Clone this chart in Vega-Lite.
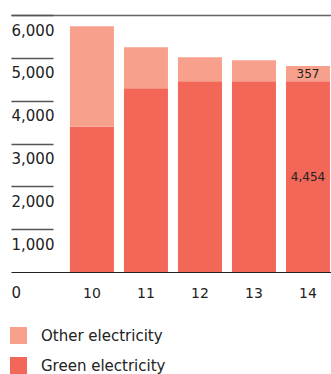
{
  "$schema": "https://vega.github.io/schema/vega-lite/v6.json",
  "width": 320,
  "height": 257,
  "autosize": {"type": "none"},
  "padding": {"left": 11, "top": 15, "right": 0, "bottom": 102},
  "background": "white",
  "config": {
    "view": {"stroke": null},
    "font": "DejaVu Sans",
    "text": {"font": "DejaVu Sans"}
  },
  "data": {
    "values": [
      {"year": "10", "type": "Green electricity", "value": 3390},
      {"year": "10", "type": "Other electricity", "value": 2345},
      {"year": "11", "type": "Green electricity", "value": 4290},
      {"year": "11", "type": "Other electricity", "value": 960},
      {"year": "12", "type": "Green electricity", "value": 4454},
      {"year": "12", "type": "Other electricity", "value": 560},
      {"year": "13", "type": "Green electricity", "value": 4454},
      {"year": "13", "type": "Other electricity", "value": 490},
      {"year": "14", "type": "Green electricity", "value": 4454},
      {"year": "14", "type": "Other electricity", "value": 357}
    ]
  },
  "transform": [
    {"stack": "value", "groupby": ["year"], "sort": [{"field": "type", "order": "ascending"}], "as": ["v0", "v1"]}
  ],
  "encoding": {
    "x": {
      "field": "year",
      "type": "ordinal",
      "scale": {"paddingInner": 0.185, "paddingOuter": 0.555, "align": 0.983},
      "axis": {
        "title": null,
        "orient": "bottom",
        "domain": true,
        "domainColor": "#222222",
        "domainWidth": 1,
        "ticks": false,
        "labelAngle": 0,
        "labelFont": "DejaVu Sans",
        "labelFontSize": 14,
        "labelColor": "#222222",
        "labelPadding": 14,
        "labelBaseline": "top"
      }
    }
  },
  "layer": [
    {
      "mark": {"type": "bar"},
      "encoding": {
        "y": {
          "field": "v0",
          "type": "quantitative",
          "scale": {"domain": [0, 6000], "nice": false},
          "axis": {
            "title": null,
            "orient": "left",
            "values": [0, 1000, 2000, 3000, 4000, 5000, 6000],
            "format": ",.0f",
            "offset": -42,
            "domain": false,
            "ticks": true,
            "tickSize": 42,
            "tickColor": "#555555",
            "tickWidth": 1.3,
            "tickOpacity": {"condition": {"test": "datum.value == 0", "value": 0}, "value": 1},
            "grid": true,
            "gridColor": "#666666",
            "gridWidth": 1.3,
            "gridOpacity": {"condition": {"test": "datum.value == 6000", "value": 1}, "value": 0},
            "labelAlign": "left",
            "labelBaseline": "top",
            "labelPadding": 0,
            "labelOffset": {"condition": {"test": "datum.value == 0", "value": 13}, "value": 8},
            "labelFont": "DejaVu Sans",
            "labelFontSize": 15,
            "labelColor": "#222222",
            "labelOverlap": false,
            "labelFlush": false,
            "labelBound": false
          }
        },
        "y2": {"field": "v1"},
        "color": {
          "field": "type",
          "type": "nominal",
          "scale": {
            "domain": ["Other electricity", "Green electricity"],
            "range": ["#F7A18C", "#F26757"]
          },
          "legend": {
            "title": null,
            "orient": "none",
            "direction": "vertical",
            "legendX": -1,
            "legendY": 312,
            "symbolType": "square",
            "symbolSize": 289,
            "symbolStrokeWidth": 0,
            "symbolOpacity": 1,
            "rowPadding": 13,
            "labelOffset": 14,
            "labelFont": "DejaVu Sans",
            "labelFontSize": 15,
            "labelColor": "#222222",
            "padding": 0
          }
        }
      }
    },
    {
      "transform": [
        {"filter": "datum.year == '14'"},
        {"fold": ["v0", "v1"], "as": ["end", "pos"]},
        {"aggregate": [{"op": "mean", "field": "pos", "as": "mid"}], "groupby": ["year", "type", "value"]}
      ],
      "mark": {"type": "text", "font": "DejaVu Sans", "fontSize": 12, "color": "#222222", "baseline": "middle", "align": "center"},
      "encoding": {
        "y": {"field": "mid", "type": "quantitative"},
        "text": {"field": "value", "type": "quantitative", "format": ","}
      }
    }
  ]
}
